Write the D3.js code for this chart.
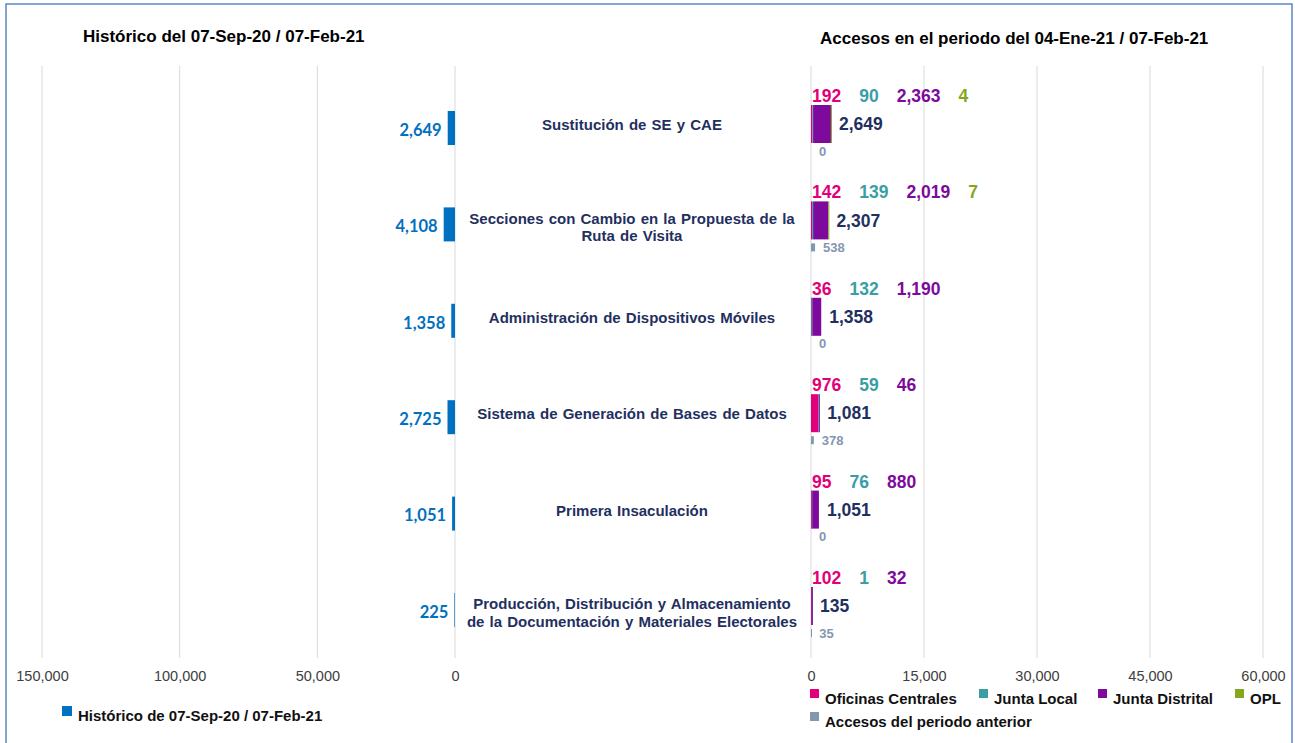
<!DOCTYPE html>
<html>
<head>
<meta charset="utf-8">
<title>Accesos</title>
<script src="https://d3js.org/d3.v7.min.js"></script>
<style>
  body { margin: 0; background: #fff; }
  svg text { font-family: "Liberation Sans", Arial, sans-serif; }
  .tick-label { font-size: 14.5px; fill: #404040; }
  .cat { font-size: 15px; font-weight: bold; fill: #1f3060; word-spacing: 1px; }
  .title { font-size: 17px; font-weight: bold; fill: #000; }
  .legend { font-size: 15px; font-weight: bold; fill: #111; }
</style>
</head>
<body>
<script>
// categorias (de arriba hacia abajo)
var categorias = [
  ["Sustitución de SE y CAE"],
  ["Secciones con Cambio en la Propuesta de la", "Ruta de Visita"],
  ["Administración de Dispositivos Móviles"],
  ["Sistema de Generación de Bases de Datos"],
  ["Primera Insaculación"],
  ["Producción, Distribución y Almacenamiento", "de la Documentación y Materiales Electorales"]
];
var historico = [2649, 4108, 1358, 2725, 1051, 225];
var oficinas = [192, 142, 36, 976, 95, 102];
var juntaLocal = [90, 139, 132, 59, 76, 1];
var juntaDistrital = [2363, 2019, 1190, 46, 880, 32];
var opl = [4, 7, null, null, null, null];
var anterior = [0, 538, 0, 378, 0, 35];

var ticksIzq = [150000, 100000, 50000, 0];
var ticksDer = [0, 15000, 30000, 45000, 60000];

var series = [
  { name: "Oficinas Centrales", values: oficinas, color: "#e2007a" },
  { name: "Junta Local", values: juntaLocal, color: "#3a9ea5" },
  { name: "Junta Distrital", values: juntaDistrital, color: "#7d0a9c" },
  { name: "OPL", values: opl, color: "#86a61c" }
];
var colorAnterior = "#8497b0";
var colorHist = "#0070c0";
var navy = "#1f3060";

var W = 1295, H = 743;
var fmt = d3.format(",");

var svg = d3.select("body").append("svg")
    .attr("width", W).attr("height", H);

// marco
svg.append("rect")
    .attr("x", 6).attr("y", 4)
    .attr("width", 1286).attr("height", 760)
    .attr("fill", "#fff")
    .attr("stroke", "#5b86c9")
    .attr("stroke-width", 1.5);

var idx = d3.range(categorias.length);
var y = d3.scaleBand().domain(idx).range([85, 85 + 6 * 96.4]);

var xl = d3.scaleLinear().domain([0, 150000]).range([455, 42]);
var xr = d3.scaleLinear().domain([0, 60000]).range([811, 1263]);

var gridTop = 66, gridBottom = 658;

// rejillas
svg.selectAll("line.gl").data(ticksIzq).enter().append("line")
    .attr("x1", function(d) { return xl(d); }).attr("x2", function(d) { return xl(d); })
    .attr("y1", gridTop).attr("y2", gridBottom)
    .attr("stroke", "#d9d9d9").attr("stroke-width", 1);
svg.selectAll("line.gr").data(ticksDer).enter().append("line")
    .attr("x1", function(d) { return xr(d); }).attr("x2", function(d) { return xr(d); })
    .attr("y1", gridTop).attr("y2", gridBottom)
    .attr("stroke", "#d9d9d9").attr("stroke-width", 1);

// ejes (solo etiquetas)
var axL = svg.append("g").attr("transform", "translate(0," + gridBottom + ")")
    .call(d3.axisBottom(xl).tickValues(ticksIzq).tickFormat(fmt).tickSize(0).tickPadding(13));
var axR = svg.append("g").attr("transform", "translate(0," + gridBottom + ")")
    .call(d3.axisBottom(xr).tickValues(ticksDer).tickFormat(fmt).tickSize(0).tickPadding(13));
[axL, axR].forEach(function(ax) {
  ax.select(".domain").remove();
  ax.selectAll("text").attr("class", "tick-label")
    .attr("font-family", null).attr("font-size", null).attr("fill", null);
});

// titulos
svg.append("text").attr("class", "title").attr("x", 83).attr("y", 42)
    .text("Histórico del 07-Sep-20 / 07-Feb-21");
svg.append("text").attr("class", "title").attr("x", 820).attr("y", 44)
    .text("Accesos en el periodo del 04-Ene-21 / 07-Feb-21");

// barras historico (izquierda)
svg.selectAll("rect.hist").data(idx).enter().append("rect")
    .attr("x", function(i) { return xl(historico[i]); })
    .attr("y", function(i) { return y(i) + 26; })
    .attr("width", function(i) { return xl(0) - xl(historico[i]); })
    .attr("height", 34)
    .attr("fill", colorHist);
svg.selectAll("text.hist").data(idx).enter().append("text")
    .attr("x", function(i) { return xl(historico[i]) - 6; })
    .attr("y", function(i) { return y(i) + 45; })
    .attr("dy", "0.35em")
    .attr("text-anchor", "end")
    .style("font-family", "Lato, 'Open Sans', sans-serif")
    .style("font-weight", "bold").style("font-size", "16.5px")
    .attr("fill", colorHist)
    .text(function(i) { return fmt(historico[i]); });

// categorias
idx.forEach(function(i) {
  var lines = categorias[i];
  var t = svg.append("text").attr("class", "cat")
      .attr("text-anchor", "middle")
      .attr("x", 632)
      .attr("y", y(i) + (lines.length > 1 ? 37 : 40));
  lines.forEach(function(l, k) {
    t.append("tspan").attr("x", 632).attr("dy", k === 0 ? "0.35em" : 17.5).text(l);
  });
});

// barras apiladas (derecha)
idx.forEach(function(i) {
  var acc = 0;
  series.forEach(function(s) {
    var v = s.values[i] || 0;
    if (v > 0) {
      svg.append("rect")
          .attr("x", xr(acc))
          .attr("y", y(i) + 20)
          .attr("width", Math.max(xr(acc + v) - xr(acc), 1))
          .attr("height", 38)
          .attr("fill", s.color);
    }
    acc += v;
  });
  // total
  svg.append("text")
      .attr("x", xr(acc) + 8)
      .attr("y", y(i) + 39)
      .attr("dy", "0.35em")
      .style("font-size", "17.5px").style("font-weight", "bold")
      .attr("fill", navy)
      .text(fmt(acc));

  // etiquetas por serie arriba
  var cx = xr(0) + 1;
  series.forEach(function(s) {
    var v = s.values[i];
    if (v == null) return;
    var t = svg.append("text")
        .attr("x", cx)
        .attr("y", y(i) + 17)
        .style("font-size", "17.5px").style("font-weight", "bold")
        .attr("fill", s.color)
        .text(fmt(v));
    cx += t.node().getComputedTextLength() + 18;
  });

  // periodo anterior
  var a = anterior[i];
  if (a > 0) {
    svg.append("rect")
        .attr("x", xr(0))
        .attr("y", y(i) + 62)
        .attr("width", Math.max(xr(a) - xr(0), 1))
        .attr("height", 8)
        .attr("fill", colorAnterior);
  }
  svg.append("text")
      .attr("x", xr(a) + 8)
      .attr("y", y(i) + 66)
      .attr("dy", "0.35em")
      .style("font-size", "13px").style("font-weight", "bold")
      .attr("fill", colorAnterior)
      .text(fmt(a));
});

// leyenda izquierda
svg.append("rect").attr("x", 62).attr("y", 706).attr("width", 10).attr("height", 10).attr("fill", colorHist);
svg.append("text").attr("class", "legend").attr("x", 78).attr("y", 721)
    .text("Histórico de 07-Sep-20 / 07-Feb-21");

// leyenda derecha
var legX = [810, 979, 1098, 1235];
series.forEach(function(d, k) {
  svg.append("rect").attr("x", legX[k]).attr("y", 689).attr("width", 9).attr("height", 9).attr("fill", d.color);
  svg.append("text").attr("class", "legend").attr("x", legX[k] + 15).attr("y", 704).text(d.name);
});
svg.append("rect").attr("x", 810).attr("y", 712).attr("width", 9).attr("height", 9).attr("fill", colorAnterior);
svg.append("text").attr("class", "legend").attr("x", 825).attr("y", 727).text("Accesos del periodo anterior");
</script>
</body>
</html>
